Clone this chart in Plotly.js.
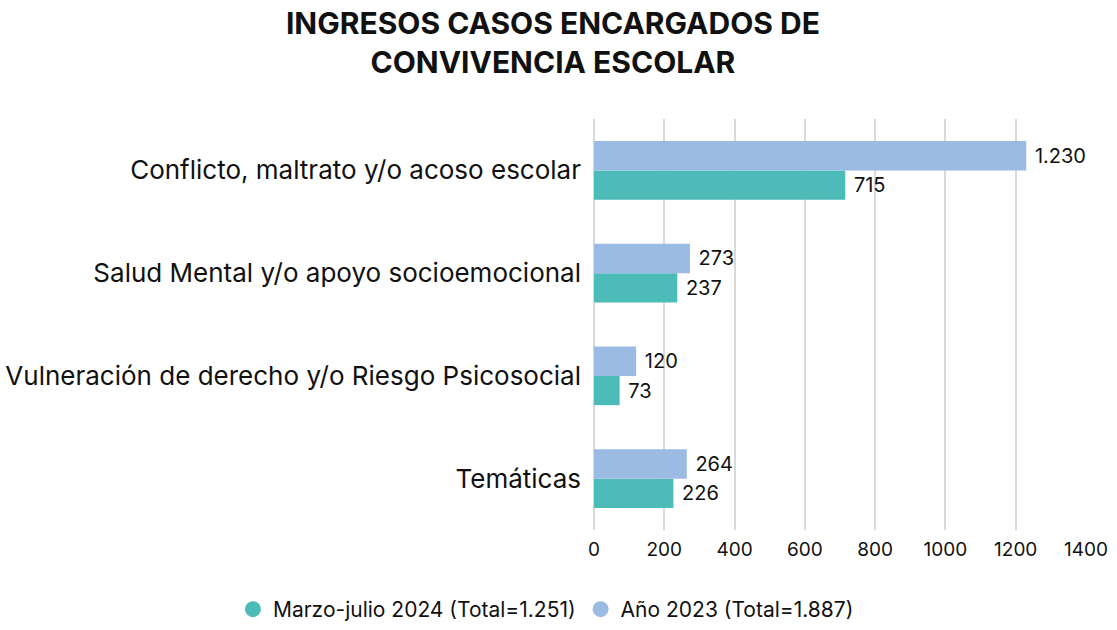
<!DOCTYPE html>
<html>
<head>
<meta charset="utf-8">
<script src="https://cdn.plot.ly/plotly-3.0.1.min.js"></script>
<style>html,body{margin:0;padding:0;background:#fff;}#chart{width:1117px;height:630px;}</style>
</head>
<body>
<div id="chart"></div>
<script>
// Categories listed bottom-to-top
var categories = [
  "Temáticas",
  "Vulneración de derecho y/o Riesgo Psicosocial",
  "Salud Mental y/o apoyo socioemocional",
  "Conflicto, maltrato y/o acoso escolar"
];
var values2024 = [226, 73, 237, 715];
var values2023 = [264, 120, 273, 1230];
var name2024 = "Marzo-julio 2024 (Total=1.251)";
var name2023 = "Año 2023 (Total=1.887)";
var xTicks = [0, 200, 400, 600, 800, 1000, 1200, 1400];

var green = "#4DBBB8";
var blue = "#9BBBE3";
var FONT = "Inter, 'Noto Sans', sans-serif";

var traces = [
  {
    type: "bar", orientation: "h", name: name2024,
    y: categories, x: values2024,
    marker: {color: green},
    texttemplate: "\u00A0%{x:,}", textposition: "outside", cliponaxis: false,
    textfont: {size: 20, color: "#111"},
    showlegend: false, hoverinfo: "x"
  },
  {
    type: "bar", orientation: "h", name: name2023,
    y: categories, x: values2023,
    marker: {color: blue},
    texttemplate: "\u00A0%{x:,}", textposition: "outside", cliponaxis: false,
    textfont: {size: 20, color: "#111"},
    showlegend: false, hoverinfo: "x"
  },
  {
    type: "scatter", mode: "markers", name: name2024,
    x: [null], y: [null],
    marker: {color: green, size: 26, symbol: "circle"},
    showlegend: true
  },
  {
    type: "scatter", mode: "markers", name: name2023,
    x: [null], y: [null],
    marker: {color: blue, size: 26, symbol: "circle"},
    showlegend: true
  }
];

var layout = {
  width: 1117, height: 630,
  paper_bgcolor: "#fff", plot_bgcolor: "#fff",
  separators: ",.",
  font: {family: FONT, color: "#111"},
  margin: {l: 0, r: 31, t: 119, b: 0},
  title: {
    text: "<b>INGRESOS CASOS ENCARGADOS DE<br>CONVIVENCIA ESCOLAR</b>",
    font: {family: FONT, size: 30, color: "#111"},
    x: 0.495, xanchor: "center", y: 0.946, yanchor: "top"
  },
  barmode: "group",
  bargap: 0.43,
  bargroupgap: 0,
  xaxis: {
    domain: [594 / 1086, 1],
    range: [0, 1400],
    tickvals: xTicks,
    ticktext: xTicks.map(String),
    showgrid: true, gridcolor: "#d9d9d9", gridwidth: 2,
    zeroline: true, zerolinecolor: "#d9d9d9", zerolinewidth: 2,
    showline: false, ticks: "",
    tickfont: {size: 19, color: "#111"},
    ticklabelstandoff: 6,
    automargin: false
  },
  yaxis: {
    domain: [100 / 511, 1],
    type: "category",
    showgrid: false, zeroline: false, showline: false, ticks: "",
    tickfont: {size: 26, color: "#111"},
    ticklabelstandoff: 12,
    automargin: false
  },
  showlegend: true,
  legend: {
    orientation: "h",
    x: 0.2145, xanchor: "left",
    y: 0, yanchor: "bottom",
    font: {size: 21, color: "#111"},
    itemsizing: "trace",
    traceorder: "normal"
  }
};

Plotly.newPlot("chart", traces, layout, {displayModeBar: false, staticPlot: true});
</script>
</body>
</html>
